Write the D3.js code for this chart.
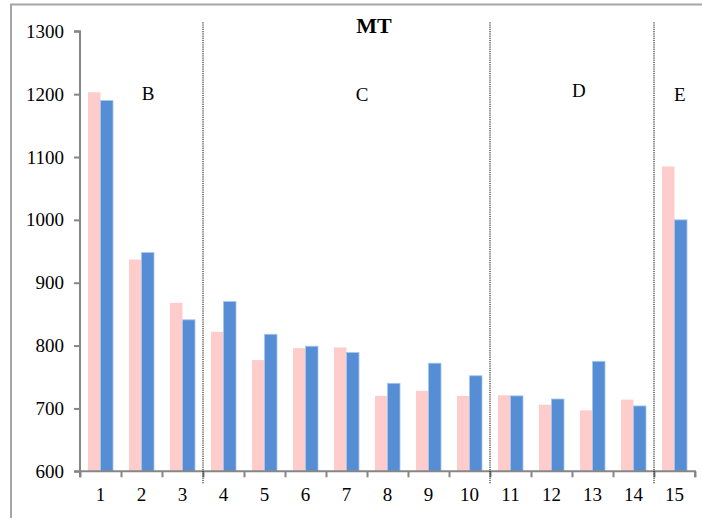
<!DOCTYPE html>
<html lang="en">
<head>
    <meta charset="UTF-8">
    <title>MT</title>
    <style>
        body { margin: 0; background: #fff; }
        text { font-family: "Liberation Serif", "Times New Roman", serif; fill: #000; }
        .section { font-size: 19px; }
        .title { font-size: 22px; font-weight: bold; }
    </style>
</head>
<body>
    <svg width="702" height="518"></svg>
    <script src="https://d3js.org/d3.v7.min.js"></script>
    <script>
        const categories = ['1', '2', '3', '4', '5', '6', '7', '8', '9', '10', '11', '12', '13', '14', '15'];
        const seriesNames = ['pink', 'blue'];
        const pinkValues = [1203, 937, 868, 822, 777, 796, 797, 720, 728, 720, 721, 706, 697, 714, 1085];
        const blueValues = [1190, 948, 841, 870, 818, 799, 789, 740, 772, 752, 720, 715, 775, 704, 1000];
        const yTicks = [600, 700, 800, 900, 1000, 1100, 1200, 1300];
        // dividers sit on category boundaries (after category n)
        const dividers = [3, 10, 14];
        const sectionNames = ['B', 'C', 'D', 'E'];
        const sectionAt = [1.66, 6.88, 12.17, 14.63];
        const sectionLevel = [1191, 1189, 1196, 1189];
        const title = 'MT';

        const colors = { pink: '#ffcccc', blue: '#558ed5' };

        const margin = { left: 80, top: 31.3, right: 7, bottom: 46.7 };
        const svg = d3.select('svg');
        const width = +svg.attr('width');
        const height = +svg.attr('height');
        const innerWidth = width - margin.left - margin.right;
        const innerHeight = height - margin.top - margin.bottom;

        // outer frame, runs off the right and bottom edge
        svg.append('rect')
            .attr('x', 11).attr('y', 4.5)
            .attr('width', 720).attr('height', 540)
            .attr('fill', 'none')
            .attr('stroke', '#a6a6a6')
            .attr('stroke-width', 2);

        const g = svg.append('g')
            .attr('transform', 'translate(' + margin.left + ',' + margin.top + ')');

        const x = d3.scaleBand()
            .domain(categories)
            .range([0, innerWidth])
            .paddingInner(0.39)
            .paddingOuter(0.195);

        const xSub = d3.scaleBand()
            .domain(seriesNames)
            .range([0, x.bandwidth()]);

        // boundary scale for ticks and dividers
        const xb = d3.scaleLinear()
            .domain([0, categories.length])
            .range([0, innerWidth]);

        const y = d3.scaleLinear()
            .domain([600, 1300])
            .range([innerHeight, 0]);

        const rows = categories.map(function (c, i) {
            return { cat: c, pink: pinkValues[i], blue: blueValues[i] };
        });

        // bars
        const groups = g.selectAll('.cat')
            .data(rows)
            .enter()
            .append('g')
            .attr('transform', function (d) { return 'translate(' + x(d.cat) + ',0)'; });

        groups.selectAll('rect')
            .data(function (d) {
                return seriesNames.map(function (s) { return { key: s, value: d[s] }; });
            })
            .enter()
            .append('rect')
            .attr('x', function (d) { return xSub(d.key); })
            .attr('y', function (d) { return y(d.value); })
            .attr('width', xSub.bandwidth())
            .attr('height', function (d) { return innerHeight - y(d.value); })
            .attr('fill', function (d) { return colors[d.key]; })
            .attr('stroke', function (d) { return d.key === 'blue' ? '#a9c6ec' : 'none'; })
            .attr('stroke-width', 0.8);

        // y axis
        const yAxisG = g.append('g')
            .call(d3.axisLeft(y).tickValues(yTicks).tickFormat(d3.format('d')).tickSize(6).tickPadding(10));

        // x axis: boundary ticks, labels at band centres
        const xAxisG = g.append('g')
            .attr('transform', 'translate(0,' + innerHeight + ')')
            .call(d3.axisBottom(xb).ticks(categories.length).tickSize(6).tickFormat(''));

        const xLabelG = g.append('g')
            .attr('transform', 'translate(0,' + innerHeight + ')')
            .call(d3.axisBottom(x).tickSize(0).tickPadding(16));

        xLabelG.select('.domain').remove();

        [yAxisG, xAxisG].forEach(function (a) {
            a.select('.domain').attr('stroke', '#868686').attr('stroke-width', 2);
            a.selectAll('.tick line').attr('stroke', '#868686').attr('stroke-width', 2);
        });
        yAxisG.select('.domain').attr('d', 'M-6,' + innerHeight + 'H0V0H-6');
        xAxisG.select('.domain').attr('d', 'M0,' + 6 + 'V0H' + innerWidth + 'V6');

        [yAxisG, xLabelG].forEach(function (a) {
            a.attr('font-family', '"Liberation Serif", serif').attr('font-size', 19);
            a.selectAll('.tick text').attr('fill', '#000');
        });

        // dotted section dividers
        g.selectAll('.divider')
            .data(dividers)
            .enter()
            .append('line')
            .attr('x1', function (d) { return xb(d); })
            .attr('x2', function (d) { return xb(d); })
            .attr('y1', -9)
            .attr('y2', innerHeight + 13)
            .attr('stroke', '#000')
            .attr('stroke-width', 1)
            .attr('stroke-dasharray', '1.2,1');

        // section labels
        g.selectAll('.section')
            .data(sectionNames)
            .enter()
            .append('text')
            .attr('class', 'section')
            .attr('x', function (d, i) { return xb(sectionAt[i]); })
            .attr('y', function (d, i) { return y(sectionLevel[i]); })
            .attr('text-anchor', 'middle')
            .text(function (d) { return d; });

        svg.append('text')
            .attr('class', 'title')
            .attr('x', 374)
            .attr('y', 33)
            .attr('text-anchor', 'middle')
            .text(title);
    </script>
</body>
</html>
